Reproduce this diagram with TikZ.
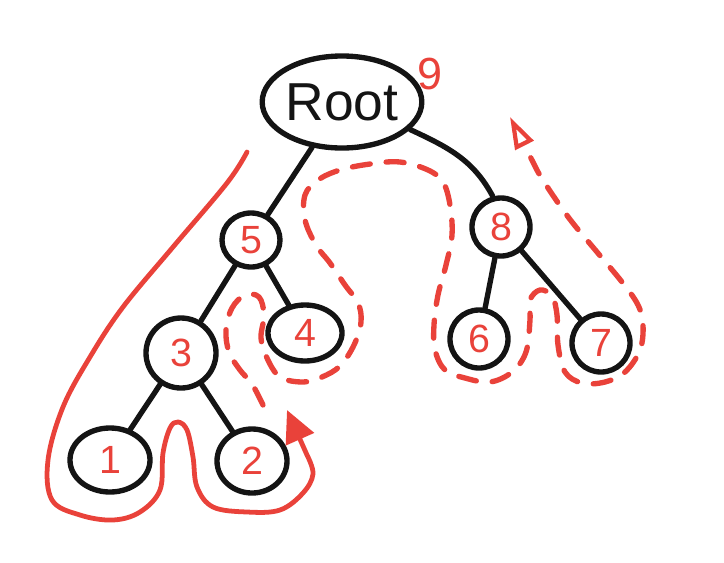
\documentclass[tikz,border=0pt]{standalone}
\usepackage{fontspec}
\setmainfont{Liberation Sans}
\usetikzlibrary{arrows.meta,shapes.geometric}
\definecolor{penred}{RGB}{233,66,58}
\definecolor{penblack}{RGB}{20,20,20}
\tikzset{
  treenode/.style={draw=penblack, ellipse, line width=3.8pt, inner sep=0pt, text=penred, font=\fontsize{28}{28}\selectfont},
  rootnode/.style={treenode, text=penblack, font=\fontsize{38}{38}\selectfont},
  edge/.style={draw=penblack, line width=3.8pt, line cap=round},
  walk/.style={draw=penred, line width=3.4pt, line cap=round, line join=round},
  dashwalk/.style={walk, line width=3.8pt, dash pattern=on 0.45cm off 0.4cm}
}

\begin{document}
\begin{tikzpicture}[x=0.025cm, y=-0.025cm]
  \useasboundingbox (0,0) rectangle (724,562);

  \node[rootnode, minimum width=3.6cm, minimum height=2.3cm] (root) at (342,102) {Root};
  \node[text=penred, font=\fontsize{32}{32}\selectfont] (cnt) at (430,74) {9};

  \node[treenode, minimum width=1.45cm, minimum height=1.35cm] (n5) at (251,240) {5};
  \node[treenode, minimum width=1.75cm, minimum height=1.75cm] (n3) at (181,353) {3};
  \node[treenode, minimum width=1.85cm, minimum height=1.4cm] (n4) at (305,333) {4};
  \node[treenode, minimum width=2.0cm, minimum height=1.6cm] (n1) at (110,460) {1};
  \node[treenode, minimum width=1.75cm, minimum height=1.6cm] (n2) at (252,461) {2};
  \node[treenode, minimum width=1.45cm, minimum height=1.45cm] (n8) at (501,227) {8};
  \node[treenode, minimum width=1.45cm, minimum height=1.45cm] (n6) at (479,339) {6};
  \node[treenode, minimum width=1.45cm, minimum height=1.45cm] (n7) at (601,343) {7};

  \foreach \a/\b in {root/n5,n5/n3,n5/n4,n3/n1,n3/n2,n8/n6,n8/n7}
    \draw[edge] (\a) -- (\b);
  \draw[edge] (root.-22) to[out=-25, in=118] (n8.105);

  % left side walk
  \draw[walk, -{Triangle[length=0.8cm, width=0.75cm]}] plot[smooth, tension=0.6] coordinates {
    (247,152) (227,183) (173,247) (123,307) (90,357) (63,407) (48,460) (52,500)
    (80,515) (113,520) (140,512) (160,490) (163,453) (170,428) (178,422) (187,430)
    (193,457) (197,487) (213,507) (247,512) (280,510) (303,493) (313,474) (307,455)}
    -- (287,410);

  % right side walk
  \draw[dashwalk, -{Triangle[open, length=0.8cm, width=0.5cm, line width=3pt]}] plot[smooth, tension=0.6] coordinates {
    (263,405) (252,384) (240,370) (229,352) (226,330) (232,308) (245,295) (259,297)
    (264,315) (261,338) (267,358) (280,377) (303,382) (322,377) (340,366) (354,345)
    (361,322) (358,303) (345,285) (330,263) (316,245) (305,220) (305,195) (318,180)
    (340,170) (370,164) (400,162) (428,170) (443,182) (450,205) (452,235) (446,265)
    (438,295) (434,325) (435,350) (445,370) (465,378) (490,382) (512,372) (526,352)
    (530,320) (530,300) (540,290) (552,296) (557,315) (558,345) (565,372) (582,383)
    (605,382) (625,372) (640,350) (643,325) (638,305) (622,282) (597,252) (572,222)
    (552,194) (538,172)} -- (510,117);
\end{tikzpicture}
\end{document}
